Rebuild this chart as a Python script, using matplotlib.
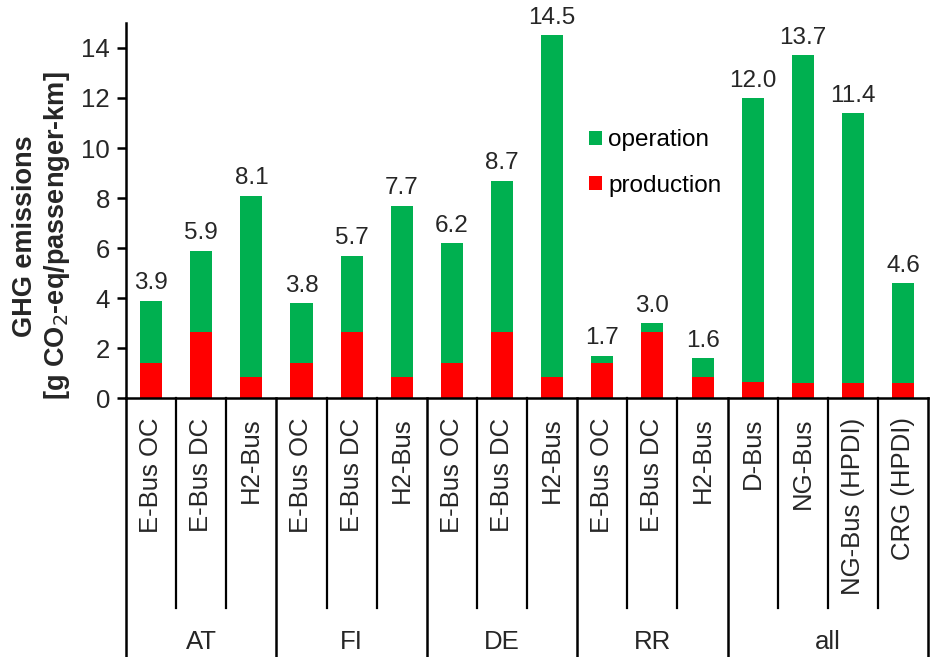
import numpy as np
import matplotlib.pyplot as plt
import matplotlib.transforms as mtransforms
from matplotlib.lines import Line2D

plt.rcParams['font.family'] = ['Liberation Sans', 'DejaVu Sans']

# bus concepts per country / region
vehicles = ['E-Bus OC', 'E-Bus DC', 'H2-Bus',
            'E-Bus OC', 'E-Bus DC', 'H2-Bus',
            'E-Bus OC', 'E-Bus DC', 'H2-Bus',
            'E-Bus OC', 'E-Bus DC', 'H2-Bus',
            'D-Bus', 'NG-Bus', 'NG-Bus (HPDI)', 'CRG (HPDI)']
groups = ['AT', 'FI', 'DE', 'RR', 'all']
group_sizes = [3, 3, 3, 3, 4]

# g CO2-eq / passenger-km
production = [1.4, 2.65, 0.85, 1.4, 2.65, 0.85, 1.4, 2.65, 0.85,
              1.4, 2.65, 0.85, 0.65, 0.6, 0.6, 0.6]
total = [3.9, 5.9, 8.1, 3.8, 5.7, 7.7, 6.2, 8.7, 14.5,
         1.7, 3.0, 1.6, 12.0, 13.7, 11.4, 4.6]

production = np.array(production)
total = np.array(total)
operation = total - production

GREEN = '#00B050'
RED = '#FF0000'
INK = '#262626'

fig = plt.figure(figsize=(9.3, 6.57), dpi=100)
ax = fig.add_axes([0.1355, 0.3942, 0.8625, 0.5708])

x = np.arange(len(vehicles))
ax.bar(x, production, width=0.44, color=RED, label='production', zorder=2)
ax.bar(x, operation, width=0.44, bottom=production, color=GREEN,
       label='operation', zorder=2)

for xi, t in zip(x, total):
    ax.annotate(f'{t:.1f}', (xi, t), xytext=(0, 4.5), textcoords='offset points',
                ha='center', va='bottom', fontsize=17.5, color=INK)

ax.set_xlim(-0.5, len(vehicles) - 0.5)
ax.set_ylim(0, 15)
ax.set_yticks(range(0, 15, 2))
ax.tick_params(axis='y', labelsize=18.5, length=6.5, width=1.8,
               colors='black', labelcolor=INK, pad=5)
ax.set_xticks(x)
ax.set_xticklabels(vehicles, rotation=90, fontsize=18.5, color=INK)
ax.tick_params(axis='x', length=0, pad=14)

for side in ['top', 'right']:
    ax.spines[side].set_visible(False)
for side in ['left', 'bottom']:
    ax.spines[side].set_linewidth(1.8)
    ax.spines[side].set_color('black')

# category table below the axis
trans = mtransforms.blended_transform_factory(ax.transData, ax.transAxes)
sep_bottom = -0.56
table_bottom = -0.70
edges = np.cumsum([0] + group_sizes) - 0.5
for e in edges:
    ax.add_line(Line2D([e, e], [0, table_bottom], transform=trans,
                       color='black', lw=1.8, clip_on=False))
start = 0
for g, n in zip(groups, group_sizes):
    for k in range(1, n):
        xe = start + k - 0.5
        ax.add_line(Line2D([xe, xe], [0, sep_bottom], transform=trans,
                           color='black', lw=1.6, clip_on=False))
    ax.text(start + (n - 1) / 2, -0.65, g, transform=trans, ha='center',
            va='center', fontsize=18.5, color=INK)
    start += n

handles, labels = ax.get_legend_handles_labels()
ax.legend(handles[::-1], labels[::-1], loc='upper left',
          bbox_to_anchor=(0.577, 0.716), frameon=False, fontsize=17.5,
          handlelength=0.55, handleheight=0.55, handletextpad=0.25,
          labelspacing=0.95, borderpad=0, borderaxespad=0)

fig.text(0.045, 1 - 236 / 657,
         'GHG emissions\n[g CO$_2$-eq/passenger-km]',
         rotation=90, ha='center', va='center', ma='center',
         fontsize=19.5, fontweight='bold', color=INK, linespacing=1.2)

fig.savefig('out.png', dpi=100)
